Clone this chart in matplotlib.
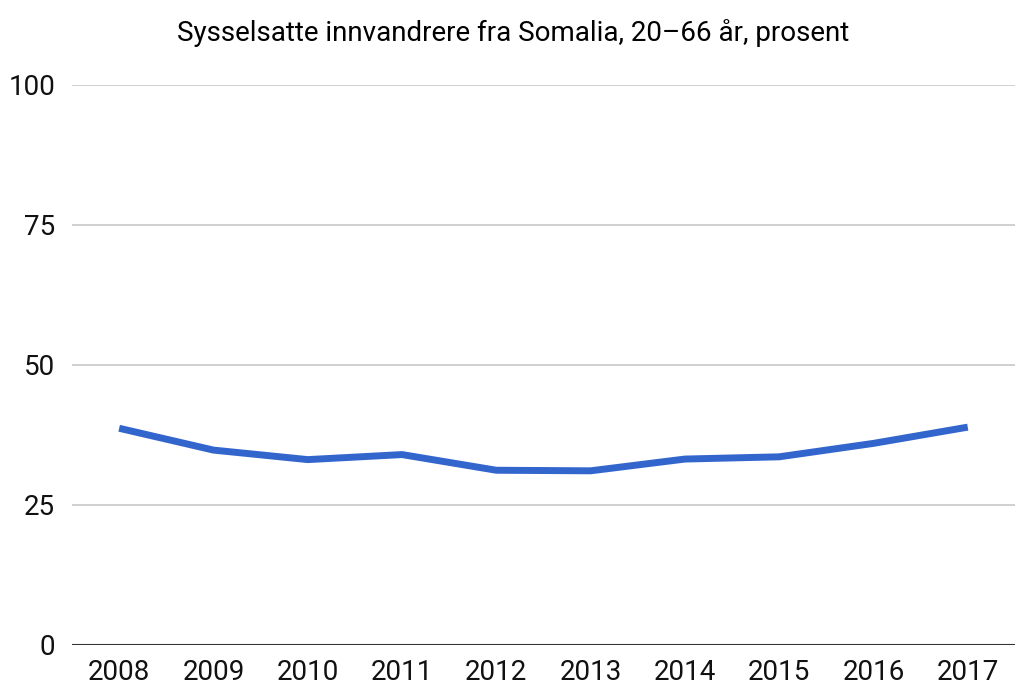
import matplotlib
matplotlib.use("Agg")
import matplotlib.pyplot as plt

# Sysselsatte innvandrere fra Somalia, 20-66 år (prosent)
years = ["2008", "2009", "2010", "2011", "2012", "2013", "2014", "2015", "2016", "2017"]
values = [38.7, 34.8, 33.1, 34.0, 31.2, 31.1, 33.2, 33.6, 36.0, 38.9]
yticks = [0, 25, 50, 75, 100]

plt.rcParams['font.family'] = ['Roboto', 'DejaVu Sans']

fig = plt.figure(figsize=(10.2, 6.95), dpi=100)
ax = fig.add_axes([0.0706, 0.072, 0.9244, 0.8057])

x = list(range(len(years)))
ax.plot(x, values, color="#3366cc", linewidth=5, solid_capstyle="butt", zorder=3)

ax.set_xlim(-0.5, len(years) - 0.5)
ax.set_ylim(0, 100)
ax.set_xticks(x)
ax.set_xticklabels(years)
ax.set_yticks(yticks)
ax.set_yticklabels([str(v) for v in yticks])

# gridlines
for v in yticks[1:]:
    ax.axhline(v, color="#cccccc", linewidth=1.3, zorder=1)
ax.axhline(0, color="#333333", linewidth=1.5, zorder=2)

for s in ax.spines.values():
    s.set_visible(False)
ax.tick_params(axis="both", length=0, labelsize=20, colors="#111111")
ax.tick_params(axis="y", pad=12)
ax.tick_params(axis="x", pad=10)

fig.text(0.503, 0.953, "Sysselsatte innvandrere fra Somalia, 20\u201366 år, prosent",
         ha="center", va="center", fontsize=20, color="#000000")

fig.savefig("out.png", dpi=100)
